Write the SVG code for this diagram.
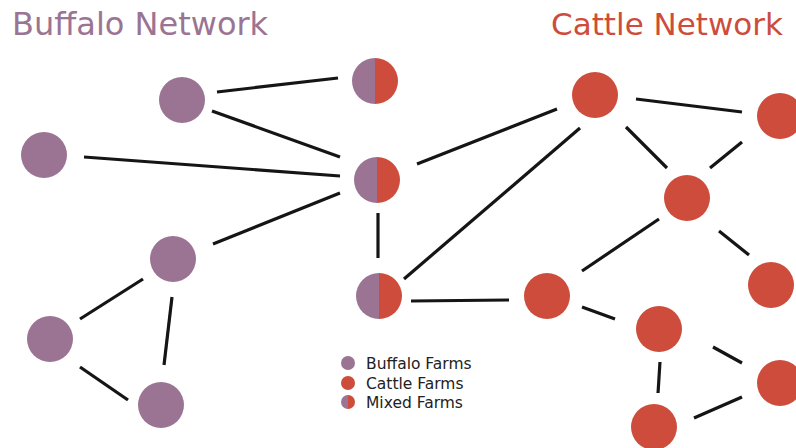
<svg xmlns="http://www.w3.org/2000/svg" width="796" height="448" viewBox="0 0 796 448">
<style>
.b{fill:#9b7493}
.c{fill:#cd4c3b}
.e line{stroke:#151515;stroke-width:3.2;stroke-linecap:butt}
.t{font-family:"DejaVu Sans",sans-serif;font-size:31px}
.l{font-family:"DejaVu Sans",sans-serif;font-size:15.5px;fill:#222}
</style>
<defs>
<g id="mix"><path class="b" d="M0,-23 A23,23 0 0 0 0,23 Z"/><path class="c" d="M0,-23 A23,23 0 0 1 0,23 Z"/></g>
<g id="mixs"><path class="b" d="M0,-7 A7,7 0 0 0 0,7 Z"/><path class="c" d="M0,-7 A7,7 0 0 1 0,7 Z"/></g>
</defs>
<rect width="796" height="448" fill="#fff"/>
<text class="t" x="12" y="35" fill="#9b7493" style="font-size:32px">Buffalo Network</text>
<text class="t" x="783" y="35" fill="#cd4c3b" text-anchor="end">Cattle Network</text>
<g id="connectors" class="e">
<line x1="217" y1="92" x2="338" y2="78"/>
<line x1="212" y1="111" x2="340" y2="157"/>
<line x1="84" y1="157" x2="340" y2="176"/>
<line x1="213" y1="244" x2="340" y2="193"/>
<line x1="80" y1="319" x2="143" y2="279"/>
<line x1="172" y1="297" x2="164" y2="365"/>
<line x1="80" y1="367" x2="128" y2="400"/>
<line x1="378" y1="213" x2="378" y2="258"/>
<line x1="417" y1="164" x2="557" y2="109"/>
<line x1="404" y1="279" x2="580" y2="128"/>
<line x1="411" y1="301" x2="509" y2="300"/>
<line x1="636" y1="99" x2="742" y2="112"/>
<line x1="626" y1="127" x2="667" y2="168"/>
<line x1="710" y1="168" x2="742" y2="142"/>
<line x1="582" y1="271" x2="659" y2="219"/>
<line x1="719" y1="231" x2="749" y2="255"/>
<line x1="582" y1="307" x2="615" y2="319"/>
<line x1="660" y1="362" x2="658" y2="393"/>
<line x1="713" y1="347" x2="742" y2="363"/>
<line x1="694" y1="418" x2="742" y2="397"/>
</g>
<g id="B1"><circle class="b" cx="182" cy="100" r="23"/></g>
<g id="B2"><circle class="b" cx="44" cy="155" r="23"/></g>
<g id="B3"><circle class="b" cx="173" cy="259" r="23"/></g>
<g id="B4"><circle class="b" cx="50" cy="339" r="23"/></g>
<g id="B5"><circle class="b" cx="161" cy="405" r="23"/></g>
<g id="M1"><use href="#mix" x="375" y="81"/></g>
<g id="M2"><use href="#mix" x="377" y="180"/></g>
<g id="M3"><use href="#mix" x="379" y="296"/></g>
<g id="C1"><circle class="c" cx="595" cy="95" r="23"/></g>
<g id="C2"><circle class="c" cx="780" cy="116" r="23"/></g>
<g id="C3"><circle class="c" cx="687" cy="198" r="23"/></g>
<g id="C4"><circle class="c" cx="771" cy="285" r="23"/></g>
<g id="C5"><circle class="c" cx="547" cy="296" r="23"/></g>
<g id="C6"><circle class="c" cx="659" cy="329" r="23"/></g>
<g id="C7"><circle class="c" cx="780" cy="383" r="23"/></g>
<g id="C8"><circle class="c" cx="654" cy="427" r="23"/></g>
<g id="legend">
<circle class="b" cx="348" cy="363" r="7"/>
<text class="l" x="366" y="369">Buffalo Farms</text>
<circle class="c" cx="348" cy="383" r="7"/>
<text class="l" x="366" y="389">Cattle Farms</text>
<use href="#mixs" x="348" y="402"/>
<text class="l" x="366" y="408">Mixed Farms</text>
</g>
</svg>
